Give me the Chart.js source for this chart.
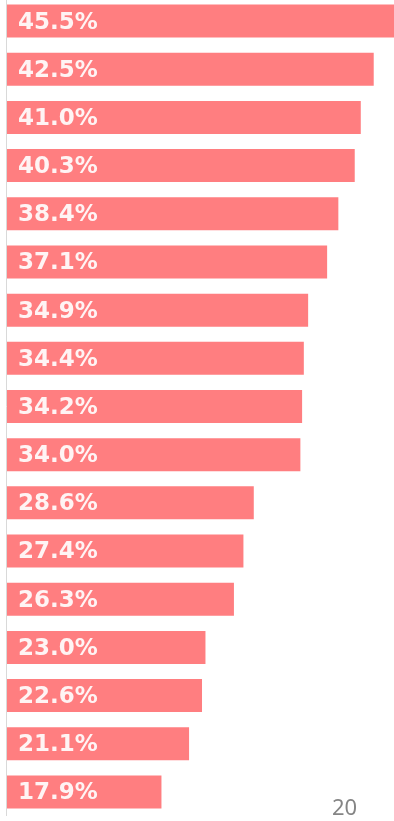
<!DOCTYPE html>
<html>
<head>
<meta charset="utf-8">
<script src="https://cdn.jsdelivr.net/npm/chart.js@4.4.1/dist/chart.umd.min.js"></script>
<style>
  html, body { margin: 0; padding: 0; background: #fff; overflow: hidden; }
  #wrap { position: relative; width: 394px; height: 819px; margin-top: -3px; }
  #pageNo {
    position: absolute; left: 332px; top: 795px;
    font-family: "Noto Sans", sans-serif; font-size: 22px; line-height: 22px;
    color: #858585;
  }
</style>
</head>
<body>
<div id="wrap"><canvas id="myChart"></canvas></div>
<div id="pageNo">20</div>
<script>
const categories = ["1", "2", "3", "4", "5", "6", "7", "8", "9", "10", "11", "12", "13", "14", "15", "16", "17"];
const values = [45.5, 42.5, 41.0, 40.3, 38.4, 37.1, 34.9, 34.4, 34.2, 34.0, 28.6, 27.4, 26.3, 23.0, 22.6, 21.1, 17.9];

// white percentage text inside each bar, near its base
const barLabels = {
  id: "barLabels",
  afterDatasetsDraw(chart) {
    const ctx = chart.ctx;
    const meta = chart.getDatasetMeta(0);
    ctx.save();
    ctx.font = "bold 23px 'DejaVu Sans', Verdana, sans-serif";
    ctx.fillStyle = "#fff4f4";
    ctx.textBaseline = "middle";
    ctx.textAlign = "left";
    meta.data.forEach((bar, i) => {
      ctx.fillText(values[i].toFixed(1) + "%", bar.base + 11, bar.y + 1.5);
    });
    ctx.restore();
  },
};

// thin grey line along the value axis origin
const baseLine = {
  id: "baseLine",
  beforeDatasetsDraw(chart) {
    const ctx = chart.ctx;
    const x = chart.scales.x.getPixelForValue(0) - 0.5;
    ctx.save();
    ctx.strokeStyle = "#d9d9d9";
    ctx.lineWidth = 1;
    ctx.beginPath();
    ctx.moveTo(x, 0);
    ctx.lineTo(x, chart.height);
    ctx.stroke();
    ctx.restore();
  },
};

const ctx = document.getElementById("myChart").getContext("2d");
new Chart(ctx, {
  type: "bar",
  data: {
    labels: categories,
    datasets: [
      {
        data: values,
        backgroundColor: "#ff7e80",
        borderWidth: 0,
        categoryPercentage: 1,
        barPercentage: 0.685,
      },
    ],
  },
  options: {
    indexAxis: "y",
    responsive: true,
    maintainAspectRatio: false,
    animation: false,
    layout: { padding: { left: 7, right: 0, top: 0, bottom: 0 } },
    plugins: {
      legend: { display: false },
      tooltip: { enabled: false },
    },
    scales: {
      x: { display: false, min: 0, max: 44.85 },
      y: { display: false },
    },
  },
  plugins: [baseLine, barLabels],
});
</script>
</body>
</html>
